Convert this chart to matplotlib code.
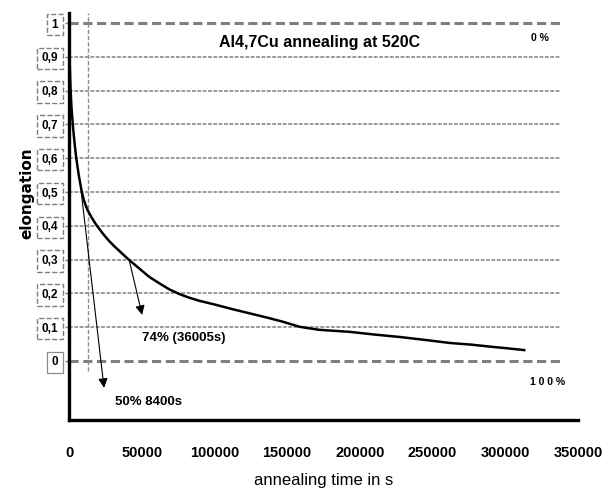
import matplotlib
matplotlib.use("Agg")
import matplotlib.pyplot as plt

# ---------------- data ----------------
time_s = [0, 150, 500, 1000, 1700, 2600, 3700, 5000, 6700, 8800, 10300, 12600,
          15500, 18400, 21500, 24000, 27600, 31000, 34500, 38000, 41300, 48200,
          55100, 62000, 68900, 75800, 82700, 89600, 101000, 112500, 124000,
          135500, 147000, 158500, 172000, 193000, 210000, 227000, 245000,
          262000, 277000, 290000, 302000, 313000]
elongation = [1.03, 0.96, 0.88, 0.81, 0.75, 0.70, 0.65, 0.60, 0.55, 0.50,
              0.475, 0.448, 0.425, 0.405, 0.387, 0.373, 0.355, 0.34, 0.326,
              0.312, 0.299, 0.274, 0.249, 0.23, 0.212, 0.198, 0.187, 0.178,
              0.166, 0.153, 0.141, 0.129, 0.116, 0.101, 0.092, 0.086, 0.078,
              0.071, 0.062, 0.053, 0.048, 0.042, 0.037, 0.032]

y_ticks = [0, 0.1, 0.2, 0.3, 0.4, 0.5, 0.6, 0.7, 0.8, 0.9, 1.0]
y_ticklabels = ["0", "0,1", "0,2", "0,3", "0,4", "0,5", "0,6", "0,7", "0,8", "0,9", "1"]
x_ticks = [0, 50000, 100000, 150000, 200000, 250000, 300000, 350000]
x_ticklabels = ["0", "50000", "100000", "150000", "200000", "250000", "300000", "350000"]

marker_time = 13000          # vertical dashed marker
arrow50_start = (8400, 0.50)
arrow50_end = (24100, -0.08)
arrow74_start = (41300, 0.30)
arrow74_end = (50300, 0.136)

title = "Al4,7Cu annealing at 520C"
xlabel = "annealing time in s"
ylabel = "elongation"

sans = ["Liberation Sans", "DejaVu Sans"]

fig = plt.figure(figsize=(6.12, 4.96), dpi=100)
ax = fig.add_axes([69 / 612, (496 - 420) / 496, (578 - 69) / 612, (420 - 13) / 496])
ax.set_xlim(0, 350000)
ax.set_ylim(-0.175, 1.03)

# grid lines
grid_end = 337600
for v in y_ticks:
    if v in (0, 1.0):
        ax.hlines(v, 0, grid_end, colors="#7f7f7f", linewidth=2.2,
                  linestyles=(0, (3, 1.5)), zorder=1)
    else:
        ax.hlines(v, 0, grid_end, colors="#7f7f7f", linewidth=1.1,
                  linestyles=(0, (2.5, 1)), zorder=1)
ax.vlines(marker_time, -0.03, 1.03, colors="#8c8c8c", linewidth=1.0,
          linestyles=(0, (3, 1.5)), zorder=1)

# curve
ax.plot(time_s, elongation, color="black", linewidth=1.8, zorder=3,
        solid_joinstyle="round")

# arrows
for s, e in [(arrow50_start, arrow50_end), (arrow74_start, arrow74_end)]:
    ax.annotate("", xy=e, xytext=s,
                arrowprops=dict(arrowstyle="-|>", color="black", lw=0.8,
                                mutation_scale=14, shrinkA=0, shrinkB=0), zorder=4)

# texts
ax.text(172000, 0.944, title, ha="center", va="center", fontsize=11.5,
        fontweight="bold", family=sans)
ax.text(50300, 0.068, "74% (36005s)", ha="left", va="center", fontsize=9.5,
        fontweight="bold", family=sans)
ax.text(31700, -0.121, "50% 8400s", ha="left", va="center", fontsize=9.5,
        fontweight="bold", family=sans)
ax.text(323800, 0.956, "0 %", ha="center", va="center", fontsize=7.5,
        fontweight="bold", family=sans)
ax.text(329000, -0.062, "1 0 0 %", ha="center", va="center", fontsize=7.5,
        fontweight="bold", family=sans)

# spines
for sp in ["top", "right"]:
    ax.spines[sp].set_visible(False)
ax.spines["left"].set_linewidth(2.4)
ax.spines["bottom"].set_linewidth(2.4)

ax.set_xticks(x_ticks)
ax.set_xticklabels(x_ticklabels, fontsize=10.5, fontweight="bold", family=sans)
ax.tick_params(axis="x", length=0, pad=19)

ax.set_yticks(y_ticks)
ax.set_yticklabels(y_ticklabels, fontsize=8.5, fontweight="bold", family=sans)
ax.tick_params(axis="y", length=3, width=1, color="#7f7f7f", pad=5)
for lbl in ax.get_yticklabels():
    if lbl.get_text() == "0":
        lbl.set_bbox(dict(boxstyle="square,pad=0.4", fc="white", ec="#8c8c8c", lw=0.9))
    else:
        lbl.set_bbox(dict(boxstyle="square,pad=0.4", fc="white", ec="#7f7f7f",
                          lw=1.0, ls="--"))

ax.set_xlabel(xlabel, fontsize=12, family=sans)
ax.xaxis.set_label_coords(0.5, -0.13)
ax.set_ylabel(ylabel, fontsize=11, fontweight="bold", family=["DejaVu Sans"])
ax.yaxis.set_label_coords(-0.068, 0.558)

fig.savefig("out.png", dpi=100)
